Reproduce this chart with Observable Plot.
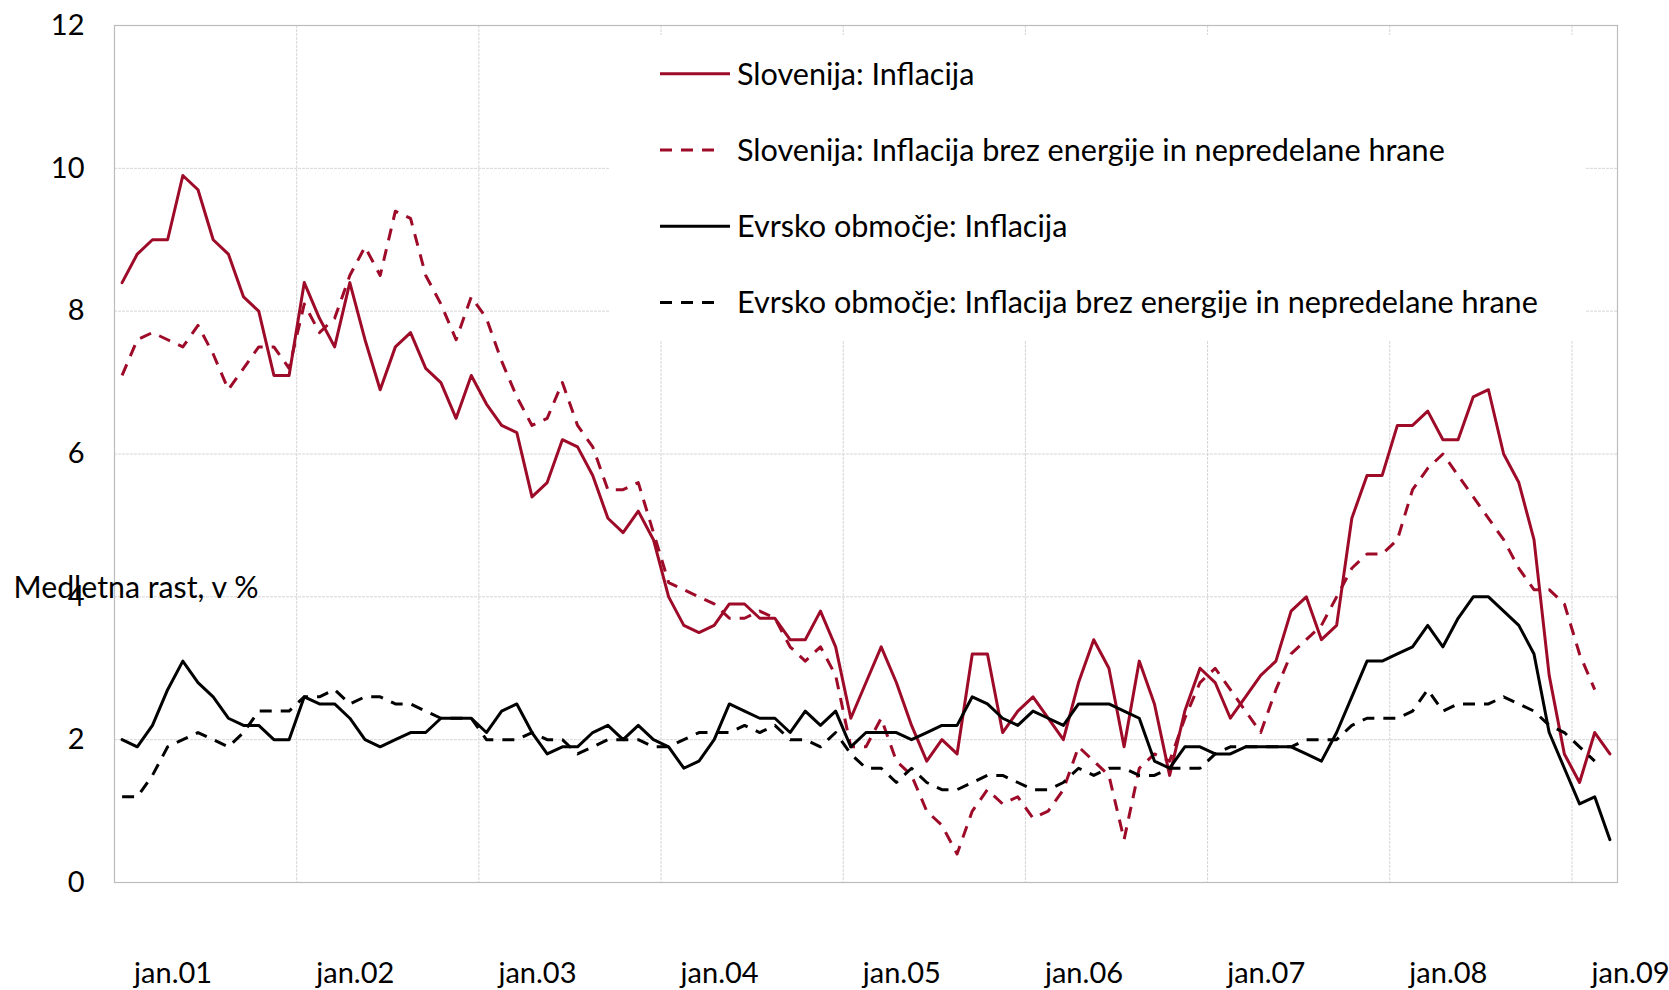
<!DOCTYPE html>
<html>
<head>
<meta charset="utf-8">
<script src="https://cdn.jsdelivr.net/npm/d3@7"></script>
<script src="https://cdn.jsdelivr.net/npm/@observablehq/plot@0.6"></script>
<style>
  html, body { margin: 0; padding: 0; background: #fff; }
  #wrap { position: relative; width: 1669px; height: 990px; font-family: Lato, sans-serif; overflow: hidden; }
  #legend { position: absolute; left: 609px; top: 35px; width: 976px; height: 306px; background: #fff; }
</style>
</head>
<body>
<div id="wrap"><div id="legend"></div></div>
<script>
// Monthly data, Jan 2001 - Mar 2009 (annual growth, %)
const seriesNames = [
  "Slovenija: Inflacija",
  "Slovenija: Inflacija brez energije in nepredelane hrane",
  "Evrsko območje: Inflacija",
  "Evrsko območje: Inflacija brez energije in nepredelane hrane"
];
const sloInfl = [
  8.4, 8.8, 9.0, 9.0, 9.9, 9.7, 9.0, 8.8, 8.2, 8.0, 7.1, 7.1,
  8.4, 7.9, 7.5, 8.4, 7.6, 6.9, 7.5, 7.7, 7.2, 7.0, 6.5, 7.1,
  6.7, 6.4, 6.3, 5.4, 5.6, 6.2, 6.1, 5.7, 5.1, 4.9, 5.2, 4.8,
  4.0, 3.6, 3.5, 3.6, 3.9, 3.9, 3.7, 3.7, 3.4, 3.4, 3.8, 3.3,
  2.3, 2.8, 3.3, 2.8, 2.2, 1.7, 2.0, 1.8, 3.2, 3.2, 2.1, 2.4,
  2.6, 2.3, 2.0, 2.8, 3.4, 3.0, 1.9, 3.1, 2.5, 1.5, 2.4, 3.0,
  2.8, 2.3, 2.6, 2.9, 3.1, 3.8, 4.0, 3.4, 3.6, 5.1, 5.7, 5.7,
  6.4, 6.4, 6.6, 6.2, 6.2, 6.8, 6.9, 6.0, 5.6, 4.8, 2.9, 1.8,
  1.4, 2.1, 1.8
];
const sloCore = [
  7.1, 7.6, 7.7, 7.6, 7.5, 7.8, 7.4, 6.9, 7.2, 7.5, 7.5, 7.2,
  8.1, 7.7, 7.9, 8.5, 8.9, 8.5, 9.4, 9.3, 8.5, 8.1, 7.6, 8.2,
  7.9, 7.3, 6.8, 6.4, 6.5, 7.0, 6.4, 6.1, 5.5, 5.5, 5.6, 4.9,
  4.2, 4.1, 4.0, 3.9, 3.7, 3.7, 3.8, 3.7, 3.3, 3.1, 3.3, 2.9,
  1.9, 1.9, 2.3, 1.7, 1.5, 1.0, 0.8, 0.4, 1.0, 1.3, 1.1, 1.2,
  0.9, 1.0, 1.3, 1.9, 1.7, 1.5, 0.6, 1.6, 1.8, 1.7, 2.3, 2.8,
  3.0, 2.7, 2.4, 2.1, 2.7, 3.2, 3.4, 3.6, 4.0, 4.4, 4.6, 4.6,
  4.8, 5.5, 5.8, 6.0, 5.7, 5.4, 5.1, 4.8, 4.4, 4.1, 4.1, 3.9,
  3.2, 2.7
];
const euInfl = [
  2.0, 1.9, 2.2, 2.7, 3.1, 2.8, 2.6, 2.3, 2.2, 2.2, 2.0, 2.0,
  2.6, 2.5, 2.5, 2.3, 2.0, 1.9, 2.0, 2.1, 2.1, 2.3, 2.3, 2.3,
  2.1, 2.4, 2.5, 2.1, 1.8, 1.9, 1.9, 2.1, 2.2, 2.0, 2.2, 2.0,
  1.9, 1.6, 1.7, 2.0, 2.5, 2.4, 2.3, 2.3, 2.1, 2.4, 2.2, 2.4,
  1.9, 2.1, 2.1, 2.1, 2.0, 2.1, 2.2, 2.2, 2.6, 2.5, 2.3, 2.2,
  2.4, 2.3, 2.2, 2.5, 2.5, 2.5, 2.4, 2.3, 1.7, 1.6, 1.9, 1.9,
  1.8, 1.8, 1.9, 1.9, 1.9, 1.9, 1.8, 1.7, 2.1, 2.6, 3.1, 3.1,
  3.2, 3.3, 3.6, 3.3, 3.7, 4.0, 4.0, 3.8, 3.6, 3.2, 2.1, 1.6,
  1.1, 1.2, 0.6
];
const euCore = [
  1.2, 1.2, 1.5, 1.9, 2.0, 2.1, 2.0, 1.9, 2.1, 2.4, 2.4, 2.4,
  2.6, 2.6, 2.7, 2.5, 2.6, 2.6, 2.5, 2.5, 2.4, 2.3, 2.3, 2.3,
  2.0, 2.0, 2.0, 2.1, 2.0, 2.0, 1.8, 1.9, 2.0, 2.0, 2.0, 1.9,
  1.9, 2.0, 2.1, 2.1, 2.1, 2.2, 2.1, 2.2, 2.0, 2.0, 1.9, 2.1,
  1.8, 1.6, 1.6, 1.4, 1.6, 1.4, 1.3, 1.3, 1.4, 1.5, 1.5, 1.4,
  1.3, 1.3, 1.4, 1.6, 1.5, 1.6, 1.6, 1.5, 1.5, 1.6, 1.6, 1.6,
  1.8, 1.9, 1.9, 1.9, 1.9, 1.9, 2.0, 2.0, 2.0, 2.2, 2.3, 2.3,
  2.3, 2.4, 2.7, 2.4, 2.5, 2.5, 2.5, 2.6, 2.5, 2.4, 2.2, 2.1,
  1.9, 1.7
];
const xLabels = ["jan.01", "jan.02", "jan.03", "jan.04", "jan.05", "jan.06", "jan.07", "jan.08", "jan.09"];
const yTicks = [0, 2, 4, 6, 8, 10, 12];
const yTitle = "Medletna rast, v %";

const RED = "#9e0b29";
const BLACK = "#000000";
const DASH = "12,9";
const FS = 30.6;

const janIndex = xLabels.map((d, i) => i * 12);          // month index of each January
const yearBounds = janIndex.slice(1).map(i => i - 0.5);   // gridlines between years
const nMonths = sloInfl.length;

const styles = [
  {stroke: RED, dash: null},
  {stroke: RED, dash: DASH},
  {stroke: BLACK, dash: null},
  {stroke: BLACK, dash: DASH}
];
const allSeries = [sloInfl, sloCore, euInfl, euCore];

const chart = Plot.plot({
  width: 1669,
  height: 990,
  marginLeft: 114,
  marginRight: 52,
  marginTop: 25,
  marginBottom: 108,
  style: {fontFamily: "Lato, sans-serif", color: "#000", background: "#fff", overflow: "visible"},
  x: {type: "linear", domain: [-0.5, nMonths - 0.5], axis: null},
  y: {domain: [0, 12], axis: null},
  marks: [
    Plot.gridY(yTicks.slice(1, -1), {stroke: "#d6d6d6", strokeOpacity: 1, strokeDasharray: "3,1"}),
    Plot.gridX(yearBounds, {stroke: "#d6d6d6", strokeOpacity: 1, strokeDasharray: "3,1"}),
    Plot.frame({stroke: "#bcbcbc", strokeWidth: 1.2}),
    Plot.axisY(yTicks, {tickSize: 0, tickPadding: 30, fontSize: 29, label: null, fill: "#000", tickFormat: d => String(d)}),
    Plot.text(xLabels, {x: (d, i) => janIndex[i], frameAnchor: "bottom", dy: 100, dx: 51, fontSize: 29, fill: "#000"}),
    ...allSeries.map((s, k) => Plot.lineY(s, {
      x: (d, i) => i, y: d => d,
      stroke: styles[k].stroke, strokeWidth: 3,
      strokeDasharray: styles[k].dash,
      strokeLinecap: styles[k].dash ? "butt" : "round",
      strokeLinejoin: "round"
    })),
    Plot.text([yTitle], {y: () => yTicks[2], frameAnchor: "left", textAnchor: "start", dx: -101, dy: -9, fontSize: 30.3, fill: "#000"})
  ]
});
document.getElementById("wrap").prepend(chart);

// Legend (inside the plot area, white box)
const legendDiv = document.getElementById("legend");
const lg = d3.select(legendDiv).append("svg").attr("width", 976).attr("height", 306)
  .style("font-family", "Lato, sans-serif");
const rowY = [38.7, 115, 191.3, 267.5];
seriesNames.forEach((name, k) => {
  const g = lg.append("g").attr("transform", `translate(0,${rowY[k]})`);
  g.append("line")
    .attr("x1", 51).attr("x2", styles[k].dash ? 108 : 121)
    .attr("y1", 0).attr("y2", 0)
    .attr("stroke", styles[k].stroke).attr("stroke-width", 3)
    .attr("stroke-dasharray", styles[k].dash)
    .attr("stroke-linecap", "butt");
  g.append("text").attr("x", 128).attr("y", 0.355 * FS)
    .attr("font-size", FS).attr("fill", "#000").text(name);
});
</script>
</body>
</html>
